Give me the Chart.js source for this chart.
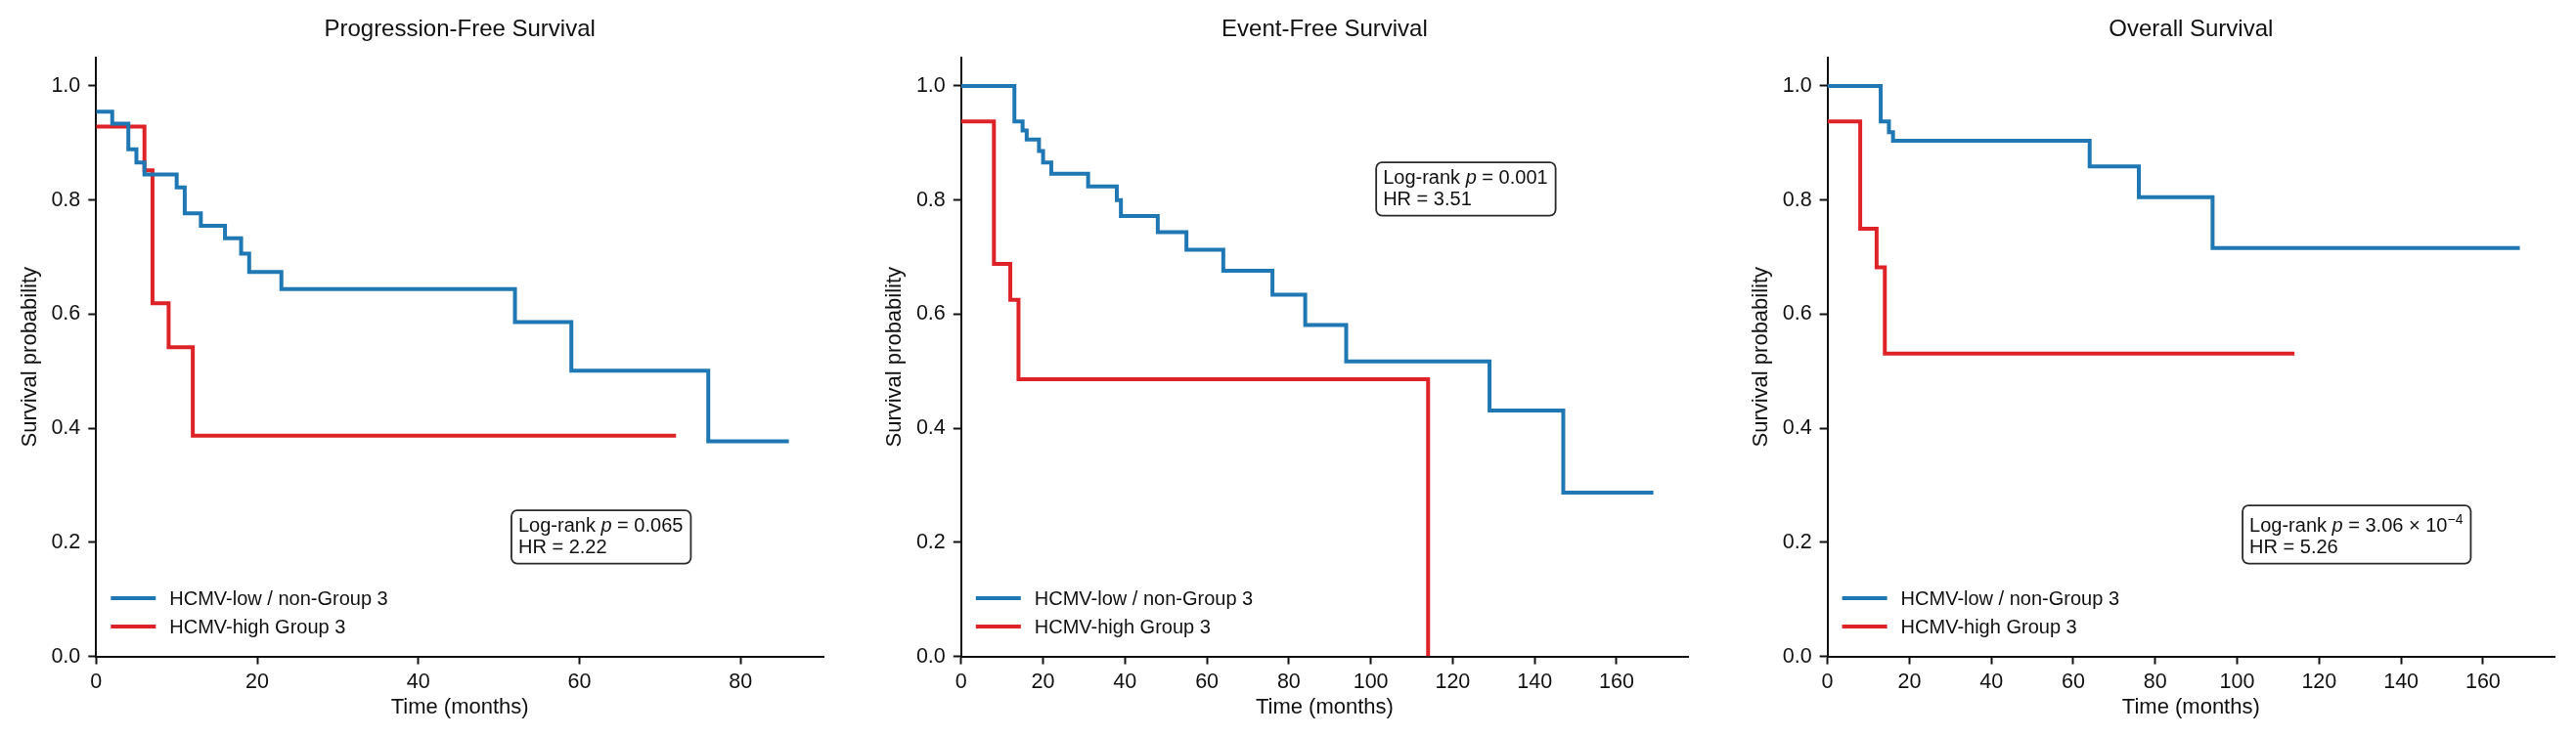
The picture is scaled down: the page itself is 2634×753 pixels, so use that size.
<!DOCTYPE html>
<html>
<head>
<meta charset="utf-8">
<script src="https://cdn.jsdelivr.net/npm/chart.js@4.4.1/dist/chart.umd.min.js"></script>
<style>
  html, body { margin: 0; padding: 0; background: #ffffff; overflow: hidden; }
  #wrap { position: relative; width: 2634px; height: 753px; background: #ffffff; }
  .panel { position: absolute; top: 0; width: 860px; height: 753px; }
  canvas { display: block; }
</style>
</head>
<body>
<div id="wrap">
  <div class="panel" style="left:0px"><canvas id="c1" width="860" height="753"></canvas></div>
  <div class="panel" style="left:884px"><canvas id="c2" width="860" height="753"></canvas></div>
  <div class="panel" style="left:1770px"><canvas id="c3" width="860" height="753"></canvas></div>
</div>
<script>
// ---------------- DATA ----------------
const panelTitles = ["Progression-Free Survival", "Event-Free Survival", "Overall Survival"];
const seriesLabels = ["HCMV-low / non-Group 3", "HCMV-high Group 3"];
const xAxisLabel = "Time (months)";
const yAxisLabel = "Survival probability";
const yTicks = [0.0, 0.2, 0.4, 0.6, 0.8, 1.0];
const xTicksPFS = [0, 20, 40, 60, 80];
const xTicksLong = [0, 20, 40, 60, 80, 100, 120, 140, 160];

// Progression-free survival (time in months, survival probability)
const pfsLowTime = [0, 2, 4, 5, 6, 10, 11, 13, 16, 18, 19, 23, 52, 59, 76, 86];
const pfsLowSurv = [0.955, 0.934, 0.889, 0.866, 0.845, 0.822, 0.777, 0.755, 0.733, 0.706, 0.674, 0.644, 0.586, 0.501, 0.377, 0.377];
const pfsHighTime = [0, 6, 7, 9, 12, 72];
const pfsHighSurv = [0.929, 0.852, 0.619, 0.542, 0.387, 0.387];

// Event-free survival
const efsLowTime = [0, 13, 15, 16, 19, 20, 22, 31, 38, 39, 48, 55, 64, 76, 84, 94, 129, 147, 169];
const efsLowSurv = [1.0, 0.938, 0.922, 0.906, 0.886, 0.866, 0.846, 0.824, 0.800, 0.772, 0.744, 0.713, 0.676, 0.634, 0.581, 0.517, 0.431, 0.287, 0.287];
const efsHighTime = [0, 8, 12, 14, 114];
const efsHighSurv = [0.938, 0.688, 0.625, 0.486, 0.0];

// Overall survival
const osLowTime = [0, 13, 15, 16, 64, 76, 94, 169];
const osLowSurv = [1.0, 0.938, 0.919, 0.904, 0.859, 0.805, 0.716, 0.716];
const osHighTime = [0, 8, 12, 14, 114];
const osHighSurv = [0.938, 0.750, 0.682, 0.531, 0.531];

// Statistics text
const pValues = ["0.065", "0.001", "3.06 × 10"];
const pExponents = ["", "", "−4"];
const hrValues = ["2.22", "3.51", "5.26"];

// ---------------- STYLE ----------------
const BLUE = "#1f77b4";
const RED = "#de2328";
const FONT = "'Liberation Sans', Arial, Helvetica, sans-serif";
const TEXT = "#111111";

function pts(t, s) { return t.map((v, i) => ({ x: v, y: s[i] })); }

const titlePlugin = {
  id: 'panelTitle',
  afterDraw(chart) {
    const o = chart.options.plugins.panelTitle;
    const ca = chart.chartArea, ctx = chart.ctx;
    ctx.save();
    ctx.font = "24px " + FONT;
    ctx.fillStyle = TEXT;
    ctx.textAlign = 'center';
    ctx.textBaseline = 'middle';
    ctx.fillText(o.text, (ca.left + ca.right) / 2, 30.5);
    ctx.restore();
  }
};

const legendPlugin = {
  id: 'kmLegend',
  afterDraw(chart) {
    const ca = chart.chartArea, ctx = chart.ctx;
    const offs = [59.5, 30.5];
    ctx.save();
    chart.data.datasets.forEach((ds, i) => {
      const y = ca.bottom - offs[i];
      ctx.strokeStyle = ds.borderColor;
      ctx.lineWidth = 4;
      ctx.lineCap = 'butt';
      ctx.beginPath();
      ctx.moveTo(ca.left + 15, y);
      ctx.lineTo(ca.left + 61, y);
      ctx.stroke();
      ctx.font = "20px " + FONT;
      ctx.fillStyle = TEXT;
      ctx.textAlign = 'left';
      ctx.textBaseline = 'middle';
      ctx.fillText(ds.label, ca.left + 75, y + 1);
    });
    ctx.restore();
  }
};

function roundRect(ctx, x, y, w, h, r) {
  ctx.beginPath();
  ctx.moveTo(x + r, y);
  ctx.lineTo(x + w - r, y);
  ctx.arcTo(x + w, y, x + w, y + r, r);
  ctx.lineTo(x + w, y + h - r);
  ctx.arcTo(x + w, y + h, x + w - r, y + h, r);
  ctx.lineTo(x + r, y + h);
  ctx.arcTo(x, y + h, x, y + h - r, r);
  ctx.lineTo(x, y + r);
  ctx.arcTo(x, y, x + r, y, r);
  ctx.closePath();
}

const statsPlugin = {
  id: 'statsBox',
  afterDraw(chart) {
    const o = chart.options.plugins.statsBox;
    const ca = chart.chartArea, ctx = chart.ctx;
    const w = ca.right - ca.left, h = ca.bottom - ca.top;
    const left = ca.left + 0.571 * w;
    const pad = 7;
    const main = "20px " + FONT, ital = "italic 20px " + FONT, sup = "14px " + FONT;
    ctx.save();
    const segs = [
      { t: "Log-rank ", f: main, dy: 0 },
      { t: "p", f: ital, dy: 0 },
      { t: " = " + o.p, f: main, dy: 0 }
    ];
    if (o.exp) segs.push({ t: o.exp, f: sup, dy: -8 });
    let w1 = 0;
    segs.forEach(s => { ctx.font = s.f; s.w = ctx.measureText(s.t).width; w1 += s.w; });
    ctx.font = main;
    const line2 = "HR = " + o.hr;
    const w2 = ctx.measureText(line2).width;
    const boxW = Math.max(w1, w2) + 2 * pad + 1;
    const topExtra = o.exp ? 5 : 0;
    let top, b1, b2, bottom;
    if (o.anchor === 'bottom') {
      bottom = ca.bottom - o.frac * h;
      b2 = bottom - 11;
      b1 = b2 - 21.5;
      top = b1 - 22 - topExtra;
    } else {
      top = ca.bottom - o.frac * h;
      b1 = top + 22 + topExtra;
      b2 = b1 + 21.5;
      bottom = b2 + 11;
    }
    ctx.fillStyle = "#ffffff";
    ctx.strokeStyle = "#2b2b2b";
    ctx.lineWidth = 1.8;
    roundRect(ctx, left, top, boxW, bottom - top, 6);
    ctx.fill();
    ctx.stroke();
    ctx.fillStyle = TEXT;
    ctx.textAlign = 'left';
    ctx.textBaseline = 'alphabetic';
    let x = left + pad;
    segs.forEach(s => { ctx.font = s.f; ctx.fillText(s.t, x, b1 + s.dy); x += s.w; });
    ctx.font = main;
    ctx.fillText(line2, left + pad, b2);
    ctx.restore();
  }
};

function makeChart(id, idx, lowT, lowS, highT, highS, xMax, xTicks, yWidth, statsOpts) {
  const ctx = document.getElementById(id).getContext('2d');
  return new Chart(ctx, {
    type: 'line',
    data: {
      datasets: [
        { label: seriesLabels[0], data: pts(lowT, lowS), borderColor: BLUE, backgroundColor: BLUE,
          borderWidth: 4, pointRadius: 0, stepped: true, fill: false, borderJoinStyle: 'miter', borderCapStyle: 'butt' },
        { label: seriesLabels[1], data: pts(highT, highS), borderColor: RED, backgroundColor: RED,
          borderWidth: 4, pointRadius: 0, stepped: true, fill: false, borderJoinStyle: 'miter', borderCapStyle: 'butt' }
      ]
    },
    options: {
      responsive: false,
      animation: false,
      devicePixelRatio: 1,
      layout: { padding: { top: 58.8, right: 18, bottom: 0, left: 0 } },
      plugins: {
        legend: { display: false },
        tooltip: { enabled: false },
        title: { display: false },
        panelTitle: { text: panelTitles[idx] },
        statsBox: statsOpts
      },
      scales: {
        x: {
          type: 'linear', min: 0, max: xMax,
          afterFit(scale) { scale.height = 81.4; },
          afterBuildTicks(scale) { scale.ticks = xTicks.map(v => ({ value: v })); },
          ticks: { font: { size: 21.5, family: FONT }, color: TEXT, padding: 6, maxRotation: 0, autoSkip: false },
          grid: { display: true, drawOnChartArea: false, drawTicks: true, tickLength: 8, tickWidth: 2, color: '#111111' },
          border: { display: true, color: '#111111', width: 2 },
          title: { display: true, text: xAxisLabel, font: { size: 22, family: FONT }, color: TEXT, padding: { top: 0, bottom: 16.3 } }
        },
        y: {
          type: 'linear', min: 0, max: 1.05,
          afterFit(scale) { scale.width = yWidth; },
          afterBuildTicks(scale) { scale.ticks = yTicks.map(v => ({ value: v })); },
          ticks: { font: { size: 21.5, family: FONT }, color: TEXT, padding: 8, callback: v => v.toFixed(1) },
          grid: { display: true, drawOnChartArea: false, drawTicks: true, tickLength: 8, tickWidth: 2, color: '#111111' },
          border: { display: true, color: '#111111', width: 2 },
          title: { display: true, text: yAxisLabel, font: { size: 22, family: FONT }, color: TEXT, padding: { top: 17.8, bottom: 0 } }
        }
      }
    },
    plugins: [titlePlugin, legendPlugin, statsPlugin]
  });
}

makeChart('c1', 0, pfsLowTime, pfsLowSurv, pfsHighTime, pfsHighSurv, 90.3, xTicksPFS, 98.3,
  { p: pValues[0], exp: pExponents[0], hr: hrValues[0], anchor: 'bottom', frac: 0.155 });
makeChart('c2', 1, efsLowTime, efsLowSurv, efsHighTime, efsHighSurv, 177.45, xTicksLong, 98.8,
  { p: pValues[1], exp: pExponents[1], hr: hrValues[1], anchor: 'top', frac: 0.825 });
makeChart('c3', 2, osLowTime, osLowSurv, osHighTime, osHighSurv, 177.45, xTicksLong, 98.6,
  { p: pValues[2], exp: pExponents[2], hr: hrValues[2], anchor: 'bottom', frac: 0.155 });
</script>
</body>
</html>
